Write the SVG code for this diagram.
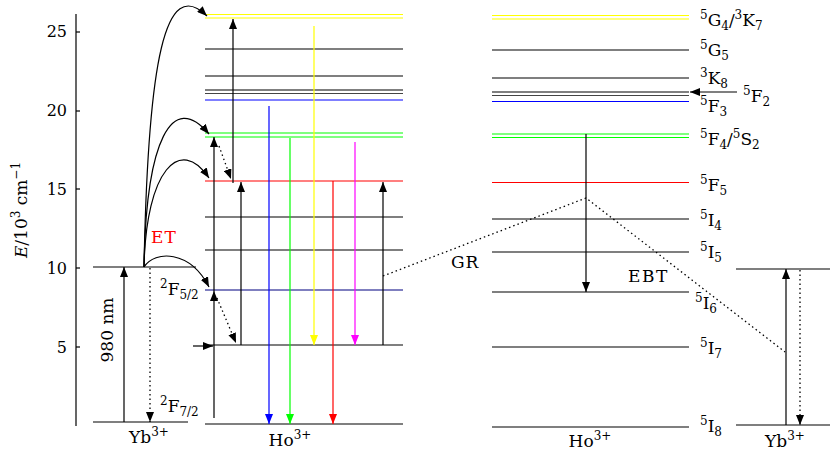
<svg xmlns="http://www.w3.org/2000/svg" width="830" height="457" viewBox="0 0 830 457" font-family="'DejaVu Serif', serif">
<style>
text{font-family:'DejaVu Serif',serif;font-size:17px;fill:#000}
.tk{font-size:16px}
.lv{stroke-width:1.2;fill:none}
.k{stroke:#000}
.ar{stroke:#000;stroke-width:1.2;fill:none}
.dot{stroke:#000;stroke-width:1.3;stroke-dasharray:1.5,3;fill:none}
.sup{font-size:12px}
</style>
<defs>
<marker id="ak" markerUnits="userSpaceOnUse" markerWidth="10" markerHeight="8" refX="10" refY="4" orient="auto"><path d="M0,0L10,4L0,8z" fill="#000"/></marker>
<marker id="ab" markerUnits="userSpaceOnUse" markerWidth="10" markerHeight="8" refX="10" refY="4" orient="auto"><path d="M0,0L10,4L0,8z" fill="#0000ff"/></marker>
<marker id="ag" markerUnits="userSpaceOnUse" markerWidth="10" markerHeight="8" refX="10" refY="4" orient="auto"><path d="M0,0L10,4L0,8z" fill="#00ff00"/></marker>
<marker id="ay" markerUnits="userSpaceOnUse" markerWidth="10" markerHeight="8" refX="10" refY="4" orient="auto"><path d="M0,0L10,4L0,8z" fill="#ffff00"/></marker>
<marker id="ar" markerUnits="userSpaceOnUse" markerWidth="10" markerHeight="8" refX="10" refY="4" orient="auto"><path d="M0,0L10,4L0,8z" fill="#ff0000"/></marker>
<marker id="am" markerUnits="userSpaceOnUse" markerWidth="10" markerHeight="8" refX="10" refY="4" orient="auto"><path d="M0,0L10,4L0,8z" fill="#ff00ff"/></marker>
</defs>

<g id="axis">
<line x1="76" y1="14" x2="76" y2="426" stroke="#000" stroke-width="1.2"/>
<g stroke="#000" stroke-width="1.2">
<line x1="76" y1="32" x2="80" y2="32"/>
<line x1="76" y1="111" x2="80" y2="111"/>
<line x1="76" y1="189" x2="80" y2="189"/>
<line x1="76" y1="268" x2="80" y2="268"/>
<line x1="76" y1="347" x2="80" y2="347"/>
</g>
<g text-anchor="end" class="tk">
<text class="tk" x="67" y="37">25</text>
<text class="tk" x="67" y="116">20</text>
<text class="tk" x="67" y="195">15</text>
<text class="tk" x="67" y="274">10</text>
<text class="tk" x="67" y="353">5</text>
</g>
<text transform="translate(27,210) rotate(-90)" text-anchor="middle"><tspan font-style="italic">E</tspan>/10<tspan class="sup" dy="-7">3</tspan><tspan dy="7"> cm</tspan><tspan class="sup" dy="-7">−1</tspan></text>
</g>

<g id="yb-left">
<line class="lv k" x1="93" y1="267" x2="196" y2="267"/>
<line class="lv k" x1="93" y1="422" x2="188" y2="422"/>
<text x="160" y="295"><tspan class="sup" dy="-7">2</tspan><tspan dy="7">F</tspan><tspan class="sup" dy="4">5/2</tspan></text>
<text x="160" y="412"><tspan class="sup" dy="-7">2</tspan><tspan dy="7">F</tspan><tspan class="sup" dy="4">7/2</tspan></text>
<text x="149" y="443" text-anchor="middle">Yb<tspan class="sup" dy="-7">3+</tspan></text>
<text transform="translate(113,330) rotate(-90)" text-anchor="middle">980 nm</text>
<text x="151" y="243" style="fill:#ff0000;letter-spacing:1px">ET</text>
</g>

<g id="ho-mid">
<line class="lv" stroke="#ffff00" x1="205" y1="14.5" x2="403" y2="14.5"/>
<line class="lv" stroke="#ffff00" x1="205" y1="18" x2="403" y2="18"/>
<line class="lv k" x1="205" y1="49" x2="403" y2="49"/>
<line class="lv k" x1="205" y1="76" x2="403" y2="76"/>
<line class="lv k" x1="205" y1="90" x2="403" y2="90"/>
<line class="lv" stroke="#444" x1="205" y1="93.5" x2="403" y2="93.5"/>
<line class="lv" stroke="#0000ff" x1="205" y1="100" x2="403" y2="100"/>
<line class="lv" stroke="#00ff00" x1="205" y1="133" x2="403" y2="133"/>
<line class="lv" stroke="#00ff00" x1="205" y1="137" x2="403" y2="137"/>
<line class="lv" stroke="#ff0000" x1="205" y1="181" x2="403" y2="181"/>
<line class="lv k" x1="205" y1="217" x2="403" y2="217"/>
<line class="lv k" x1="205" y1="250" x2="403" y2="250"/>
<line class="lv" stroke="#000080" x1="205" y1="290" x2="403" y2="290"/>
<line class="lv k" x1="205" y1="345" x2="403" y2="345"/>
<line class="lv k" x1="205" y1="424" x2="403" y2="424"/>
<text x="290" y="446" text-anchor="middle">Ho<tspan class="sup" dy="-7">3+</tspan></text>
</g>

<g id="ho-right">
<line class="lv" stroke="#ffff00" x1="492" y1="15.5" x2="689" y2="15.5"/>
<line class="lv" stroke="#ffff00" x1="492" y1="19" x2="689" y2="19"/>
<line class="lv k" x1="492" y1="50" x2="689" y2="50"/>
<line class="lv k" x1="492" y1="78" x2="689" y2="78"/>
<line class="lv k" x1="492" y1="92" x2="689" y2="92"/>
<line class="lv" stroke="#444" x1="492" y1="95.5" x2="689" y2="95.5"/>
<line class="lv" stroke="#0000ff" x1="492" y1="101.5" x2="689" y2="101.5"/>
<line class="lv" stroke="#00ff00" x1="492" y1="134" x2="689" y2="134"/>
<line class="lv" stroke="#00ff00" x1="492" y1="137.5" x2="689" y2="137.5"/>
<line class="lv" stroke="#ff0000" x1="492" y1="182.5" x2="689" y2="182.5"/>
<line class="lv k" x1="492" y1="219" x2="689" y2="219"/>
<line class="lv k" x1="492" y1="252" x2="689" y2="252"/>
<line class="lv k" x1="492" y1="292" x2="689" y2="292"/>
<line class="lv k" x1="492" y1="347" x2="689" y2="347"/>
<line class="lv k" x1="492" y1="427" x2="689" y2="427"/>
<text x="700" y="26"><tspan class="sup" dy="-7">5</tspan><tspan dy="7">G</tspan><tspan class="sup" dy="4">4</tspan><tspan dy="-4">/</tspan><tspan class="sup" dy="-7">3</tspan><tspan dy="7">K</tspan><tspan class="sup" dy="4">7</tspan></text>
<text x="700" y="56"><tspan class="sup" dy="-7">5</tspan><tspan dy="7">G</tspan><tspan class="sup" dy="4">5</tspan></text>
<text x="700" y="84"><tspan class="sup" dy="-7">3</tspan><tspan dy="7">K</tspan><tspan class="sup" dy="4">8</tspan></text>
<text x="743" y="102"><tspan class="sup" dy="-7">5</tspan><tspan dy="7">F</tspan><tspan class="sup" dy="4">2</tspan></text>
<text x="700" y="112"><tspan class="sup" dy="-7">5</tspan><tspan dy="7">F</tspan><tspan class="sup" dy="4">3</tspan></text>
<text x="700" y="145"><tspan class="sup" dy="-7">5</tspan><tspan dy="7">F</tspan><tspan class="sup" dy="4">4</tspan><tspan dy="-4">/</tspan><tspan class="sup" dy="-7">5</tspan><tspan dy="7">S</tspan><tspan class="sup" dy="4">2</tspan></text>
<text x="700" y="191"><tspan class="sup" dy="-7">5</tspan><tspan dy="7">F</tspan><tspan class="sup" dy="4">5</tspan></text>
<text x="700" y="226"><tspan class="sup" dy="-7">5</tspan><tspan dy="7">I</tspan><tspan class="sup" dy="4">4</tspan></text>
<text x="700" y="258"><tspan class="sup" dy="-7">5</tspan><tspan dy="7">I</tspan><tspan class="sup" dy="4">5</tspan></text>
<text x="695" y="309"><tspan class="sup" dy="-7">5</tspan><tspan dy="7">I</tspan><tspan class="sup" dy="4">6</tspan></text>
<text x="700" y="354"><tspan class="sup" dy="-7">5</tspan><tspan dy="7">I</tspan><tspan class="sup" dy="4">7</tspan></text>
<text x="700" y="432"><tspan class="sup" dy="-7">5</tspan><tspan dy="7">I</tspan><tspan class="sup" dy="4">8</tspan></text>
<text x="590" y="447" text-anchor="middle">Ho<tspan class="sup" dy="-7">3+</tspan></text>
<text x="628" y="282" style="letter-spacing:1.5px">EBT</text>
<text x="451" y="268" style="letter-spacing:1px">GR</text>
</g>

<g id="yb-right">
<line class="lv k" x1="736" y1="269" x2="830" y2="269"/>
<line class="lv k" x1="736" y1="425" x2="830" y2="425"/>
<text x="785" y="447" text-anchor="middle">Yb<tspan class="sup" dy="-7">3+</tspan></text>
</g>

<g id="connectors">
<line class="ar" x1="124" y1="422" x2="124" y2="267" marker-end="url(#ak)"/>
<line class="dot" x1="150" y1="268" x2="150" y2="422" marker-end="url(#ak)"/>
<path class="ar" d="M144,267 C148,60 165,-25 207,16" marker-end="url(#ak)"/>
<path class="ar" d="M144,267 C146,140 172,90 209,134" marker-end="url(#ak)"/>
<path class="ar" d="M144,267 C146,170 180,135 209,178" marker-end="url(#ak)"/>
<path class="ar" d="M144,267 C155,250 190,250 209,287" marker-end="url(#ak)"/>
<line class="ar" x1="214" y1="418" x2="214" y2="291" marker-end="url(#ak)"/>
<line class="ar" x1="214" y1="291" x2="214" y2="137" marker-end="url(#ak)"/>
<line class="dot" x1="217" y1="298" x2="236" y2="343" marker-end="url(#ak)"/>
<line class="dot" x1="219" y1="146" x2="231" y2="179" marker-end="url(#ak)"/>
<line class="ar" x1="193" y1="346" x2="213" y2="346" marker-end="url(#ak)"/>
<line class="ar" x1="241" y1="345" x2="241" y2="182" marker-end="url(#ak)"/>
<line class="ar" x1="233" y1="183" x2="233" y2="19" marker-end="url(#ak)"/>
<line class="ar" x1="383" y1="345" x2="383" y2="182" marker-end="url(#ak)"/>
<line x1="269" y1="106" x2="269" y2="424" stroke="#0000ff" stroke-width="1.2" marker-end="url(#ab)"/>
<line x1="290" y1="138" x2="290" y2="424" stroke="#00ff00" stroke-width="1.2" marker-end="url(#ag)"/>
<line x1="314" y1="26" x2="314" y2="345" stroke="#ffff00" stroke-width="1.2" marker-end="url(#ay)"/>
<line x1="333" y1="181" x2="333" y2="424" stroke="#ff0000" stroke-width="1.2" marker-end="url(#ar)"/>
<line x1="355" y1="142" x2="355" y2="345" stroke="#ff00ff" stroke-width="1.2" marker-end="url(#am)"/>
<polyline class="dot" points="383,276 586,198 785,352"/>
<line class="ar" x1="586" y1="134" x2="586" y2="292" marker-end="url(#ak)"/>
<line class="ar" x1="737" y1="92" x2="690" y2="92" marker-end="url(#ak)"/>
<line class="ar" x1="786" y1="425" x2="786" y2="269" marker-end="url(#ak)"/>
<line class="dot" x1="800" y1="270" x2="800" y2="425" marker-end="url(#ak)"/>
</g>
</svg>
